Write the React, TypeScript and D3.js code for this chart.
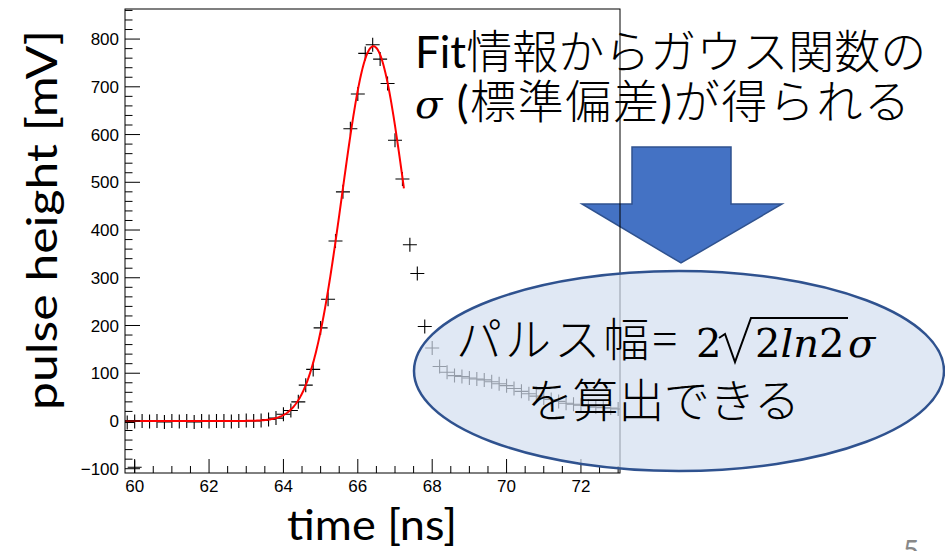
import * as d3 from "d3";
import React from "react";

// histogram bins (ns) and pulse heights (mV)
const binTimes = [
  59.8, 60.0, 60.2, 60.4, 60.6, 60.8, 61.0, 61.2, 61.4, 61.6, 61.8, 62.0, 62.2,
  62.4, 62.6, 62.8, 63.0, 63.2, 63.4, 63.6, 63.8, 64.0, 64.2, 64.4, 64.6, 64.8,
  65.0, 65.2, 65.4, 65.6, 65.8, 66.0, 66.2, 66.4, 66.6, 66.8, 67.0, 67.2, 67.4,
  67.6, 67.8, 68.0, 68.2, 68.4, 68.6, 68.8, 69.0, 69.2, 69.4, 69.6, 69.8, 70.0,
  70.2, 70.4, 70.6, 70.8, 71.0, 71.2, 71.4, 71.6, 71.8, 72.0, 72.2, 72.4, 72.6,
  72.8, 73.0,
];
const pulseHeights = [
  -3, -1, 0, -1, 0, -2, 0, -1, 0, -2, 0, -1, 0, 0, -1, 0, 1, 0, 1, 3, 6, 14, 22,
  40, 75, 108, 195, 255, 377, 480, 612, 685, 770, 788, 758, 707, 588, 507, 369,
  309, 198, 153, 114, 102, 95, 93, 90, 88, 86, 82, 78, 74, 68, 62, 57, 52, 48,
  45, 41, 37, 35, 33, 31, 29, 28, 27, 25,
];
// stray marker sitting on the bottom of the frame
const strayTimes = [60.0];
const strayHeights = [-97];

// gaussian fit parameters
const fitAmp = 785;
const fitMean = 66.42;
const fitSigma = 0.84;
const fitRange = [59.74, 67.25];

const xMajor = [60, 62, 64, 66, 68, 70, 72];
const yMajor = [-100, 0, 100, 200, 300, 400, 500, 600, 700, 800];

const frame = { left: 125, right: 620, top: 9, bottom: 473 };

const x = d3.scaleLinear().domain([59.74, 73.05]).range([frame.left, frame.right]);
const y = d3.scaleLinear().domain([-109, 863]).range([frame.bottom, frame.top]);

const xMinor = d3.range(60, 73.01, 0.5).filter((t) => !xMajor.includes(t));
const yMinor = d3.range(-100, 861, 20).filter((v) => !yMajor.includes(v));

const fitLine = d3
  .line<number>()
  .x((t) => x(t))
  .y((t) => y(fitAmp * Math.exp(-((t - fitMean) ** 2) / (2 * fitSigma ** 2))));

const fitSamples = d3.range(fitRange[0], fitRange[1] + 0.001, 0.02);

const fmt = d3.format("d");
const MS = 7; // half size of "+" marker

const Marker: React.FC<{ cx: number; cy: number }> = ({ cx, cy }) => (
  <path
    d={`M${cx - MS},${cy}H${cx + MS}M${cx},${cy - MS}V${cy + MS}`}
    stroke="#000"
    strokeWidth={1.1}
    fill="none"
  />
);

const Chart: React.FC = () => (
  <g>
    <defs>
      <clipPath id="plot">
        <rect
          x={frame.left}
          y={frame.top}
          width={frame.right - frame.left}
          height={frame.bottom - frame.top}
        />
      </clipPath>
    </defs>
    <g clipPath="url(#plot)">
      {binTimes.map((t, i) => (
        <Marker key={i} cx={x(t)} cy={y(pulseHeights[i])} />
      ))}
      {strayTimes.map((t, i) => (
        <Marker key={"s" + i} cx={x(t)} cy={y(strayHeights[i])} />
      ))}
      <path d={fitLine(fitSamples) ?? ""} stroke="#ff0000" strokeWidth={2} fill="none" />
    </g>
    {/* frame */}
    <rect
      x={frame.left}
      y={frame.top}
      width={frame.right - frame.left}
      height={frame.bottom - frame.top}
      fill="none"
      stroke="#000"
      strokeWidth={1}
    />
    {/* x ticks */}
    {xMajor.map((t) => (
      <g key={"xm" + t}>
        <line x1={x(t)} x2={x(t)} y1={frame.bottom} y2={frame.bottom - 14} stroke="#000" />
        <text
          x={x(t)}
          y={frame.bottom + 19}
          textAnchor="middle"
          fontFamily="Liberation Sans, Arial, sans-serif"
          fontSize={17}
        >
          {fmt(t)}
        </text>
      </g>
    ))}
    {xMinor.map((t) => (
      <line key={"xn" + t} x1={x(t)} x2={x(t)} y1={frame.bottom} y2={frame.bottom - 7} stroke="#000" />
    ))}
    {/* y ticks */}
    {yMajor.map((v) => (
      <g key={"ym" + v}>
        <line x1={frame.left} x2={frame.left + 15} y1={y(v)} y2={y(v)} stroke="#000" />
        <text
          x={frame.left - 6}
          y={y(v)}
          dy="0.36em"
          textAnchor="end"
          fontFamily="Liberation Sans, Arial, sans-serif"
          fontSize={17}
        >
          {fmt(v)}
        </text>
      </g>
    ))}
    {yMinor.map((v) => (
      <line key={"yn" + v} x1={frame.left} x2={frame.left + 7.5} y1={y(v)} y2={y(v)} stroke="#000" />
    ))}
    {/* axis titles */}
    <text
      transform="translate(57,220) rotate(-90)"
      textAnchor="middle"
      fontFamily="Lato, sans-serif"
      fontSize={43}
      textLength={380}
      lengthAdjust="spacingAndGlyphs"
    >
      pulse height [mV]
    </text>
    <text
      x={372}
      y={540}
      textAnchor="middle"
      fontFamily="Lato, sans-serif"
      fontSize={43}
      textLength={170}
      lengthAdjust="spacingAndGlyphs"
    >
      time [ns]
    </text>
  </g>
);

const CJK = "Noto Sans CJK JP, sans-serif";
const MATH = "DejaVu Serif, serif";

const App: React.FC = () => (
  <div style={{ position: "absolute", left: 0, top: 0 }}>
    <svg width={945} height={551} style={{ display: "block", background: "#fff" }}>
      {/* down arrow */}
      <path
        d="M632,147H731V204H782L681,263L582,204H632Z"
        fill="#4472c4"
        stroke="#2f528f"
        strokeWidth={1.5}
      />
      <Chart />
      {/* headline text */}
      <text x={415} y={68} fontSize={46} fontWeight={300}>
        <tspan fontFamily="Lato, sans-serif" fontSize={44} fontWeight={400}>Fit</tspan>
        <tspan fontFamily={CJK}>情報からガウス関数の</tspan>
      </text>
      <text x={415} y={118} fontSize={46} fontWeight={300} textLength={495} lengthAdjust="spacing">
        <tspan fontFamily={MATH} fontStyle="italic" fontSize={40}>σ</tspan>
        <tspan fontFamily="Lato, sans-serif" fontSize={44} fontWeight={400}> (</tspan>
        <tspan fontFamily={CJK}>標準偏差</tspan>
        <tspan fontFamily="Lato, sans-serif" fontSize={44} fontWeight={400}>)</tspan>
        <tspan fontFamily={CJK}>が得られる</tspan>
      </text>
      {/* ellipse callout */}
      <ellipse
        cx={679}
        cy={371}
        rx={265}
        ry={100}
        fill="#d3def0"
        fillOpacity={0.7}
        stroke="#2f528f"
        strokeWidth={2.5}
      />
      <text
        x={456}
        y={356}
        fontFamily={CJK}
        fontWeight={300}
        fontSize={46}
        textLength={221}
        lengthAdjust="spacing"
      >
        パルス幅=
      </text>
      <text x={696} y={357} fontFamily={MATH} fontSize={40}>
        2
      </text>
      <path
        d="M719,338L725,334L735,362L751,318H848"
        fill="none"
        stroke="#000"
        strokeWidth={2}
      />
      <text x={755} y={357} fontFamily={MATH} fontSize={40}>
        2<tspan fontStyle="italic">ln</tspan>2
      </text>
      <text x={848} y={357} fontFamily={MATH} fontStyle="italic" fontSize={40}>
        σ
      </text>
      <text
        x={527}
        y={417}
        fontFamily={CJK}
        fontWeight={300}
        fontSize={46}
        textLength={273}
        lengthAdjust="spacing"
      >
        を算出できる
      </text>
      {/* page number */}
      <text x={903} y={561} fontFamily="Lato, sans-serif" fontSize={28} fill="#888">
        5
      </text>
    </svg>
  </div>
);

export default App;
